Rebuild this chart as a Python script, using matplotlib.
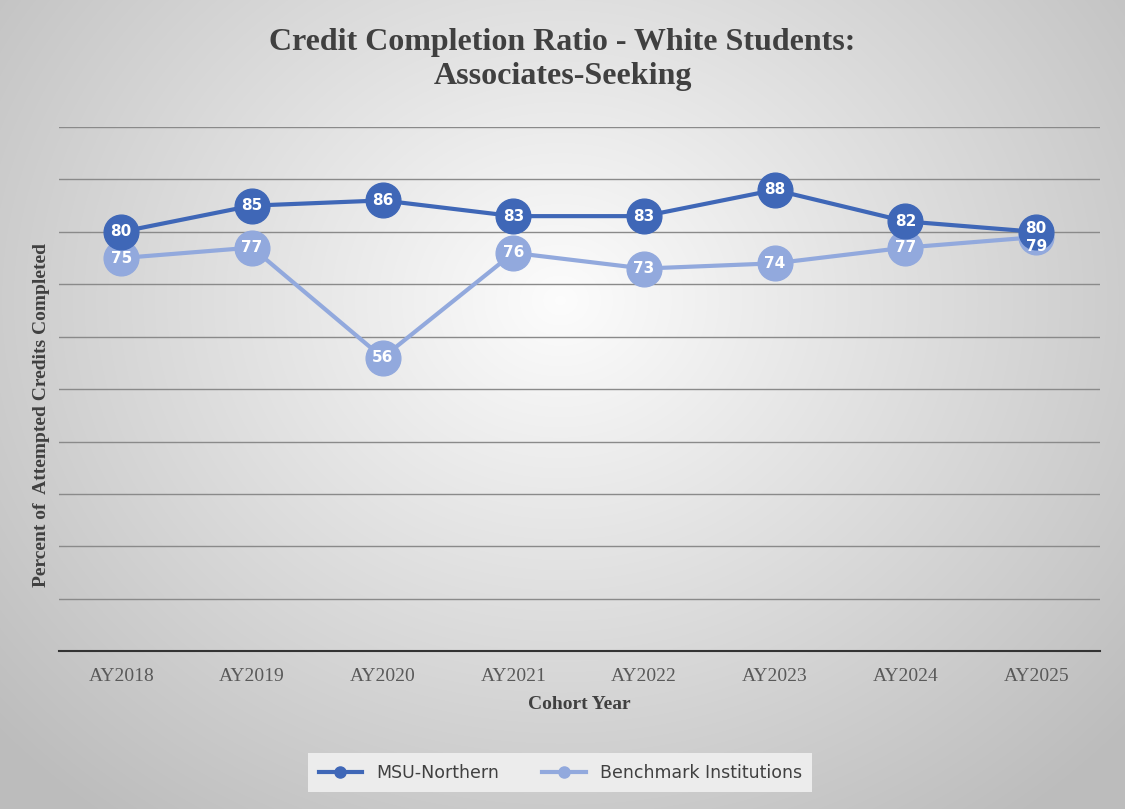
import matplotlib
matplotlib.use("Agg")
import matplotlib.pyplot as plt
import numpy as np
from matplotlib.lines import Line2D

years = ["AY2018","AY2019","AY2020","AY2021","AY2022","AY2023","AY2024","AY2025"]
msu = [80,85,86,83,83,88,82,80]
bench = [75,77,56,76,73,74,77,79]

fig = plt.figure(figsize=(11.25,8.09), dpi=100)
bg = fig.add_axes([0,0,1,1], zorder=-10)
yy, xx = np.mgrid[0:809, 0:1125]
r = np.sqrt(((xx-560)/750)**2 + ((yy-300)/650)**2)
g = np.clip(0.99 - 0.25*r, 0.74, 0.99)
bg.imshow(np.dstack([g,g,g]), extent=[0,1,0,1], aspect='auto')
bg.axis('off')

ax = fig.add_axes([0.052, 0.195, 0.926, 0.648])
ax.set_facecolor('none')
x = np.arange(len(years))
dark = '#3F67B7'; light = '#92A9DD'
ax.plot(x, bench, '-o', color=light, lw=3, ms=25, label='Benchmark Institutions', zorder=3)
ax.plot(x, msu, '-o', color=dark, lw=3, ms=25, label='MSU-Northern', zorder=4)
for i,(a,b) in enumerate(zip(msu,bench)):
    dy_a = 0.6 if i==7 else 0
    dy_b = -1.8 if i==7 else 0
    ax.text(i, a+dy_a, str(a), color='white', ha='center', va='center', fontsize=11, fontweight='bold', zorder=6)
    ax.text(i, b+dy_b, str(b), color='white', ha='center', va='center', fontsize=11, fontweight='bold', zorder=5)
ax.set_ylim(0,100)
ax.set_xlim(-0.48, 7.49)
ax.set_yticks(np.arange(10,101,10))
ax.yaxis.grid(True, color='#8a8a8a', lw=1)
ax.tick_params(axis='y', length=0, labelleft=False)
ax.tick_params(axis='x', length=0, pad=12)
ax.set_xticks(x)
ax.set_xticklabels(years, fontfamily='Liberation Serif', fontsize=14, color='#595959')
for s in ['top','right','left']:
    ax.spines[s].set_visible(False)
ax.spines['bottom'].set_color('#333333'); ax.spines['bottom'].set_linewidth(1.5)
ax.set_xlabel('Cohort Year', fontfamily='Liberation Serif', fontsize=14, fontweight='bold', color='#404040', labelpad=8)
ax.set_ylabel('Percent of  Attempted Credits Completed', fontfamily='Liberation Serif', fontsize=14, fontweight='bold', color='#404040')
ax.yaxis.set_label_coords(-0.008, 0.45)
fig.suptitle('Credit Completion Ratio - White Students:\nAssociates-Seeking', fontfamily='Liberation Serif', fontsize=23, fontweight='bold', color='#404040', y=0.965, linespacing=1.2)
hs = [Line2D([],[],color=dark,lw=3,marker='o',ms=8), Line2D([],[],color=light,lw=3,marker='o',ms=8)]
leg = fig.legend(hs, ['MSU-Northern','Benchmark Institutions'], loc='center', bbox_to_anchor=(0.498, 0.045), ncol=2,
                 frameon=True, fancybox=False, prop={'family':'DejaVu Sans','size':12.5}, handlelength=2.5,
                 columnspacing=2.5, borderpad=0.6)
leg.get_frame().set_facecolor('#ececec'); leg.get_frame().set_edgecolor('none'); leg.get_frame().set_alpha(1)
for t in leg.get_texts(): t.set_color('#404040')
fig.savefig('out.png', dpi=100)
